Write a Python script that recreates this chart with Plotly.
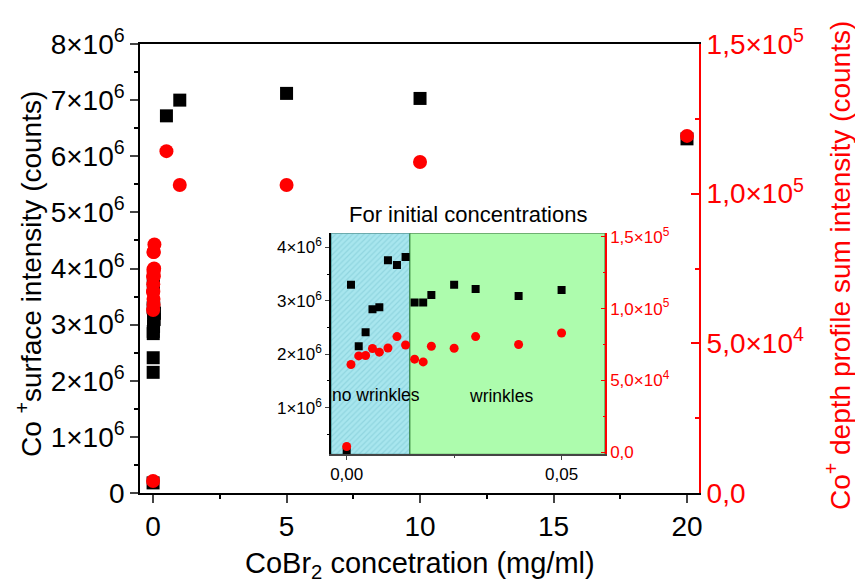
import plotly.graph_objects as go

# ---------------- data ----------------
# low concentrations (shown near 0 in main plot and in the inset)
low_conc = [0, 0.001, 0.0028, 0.0044, 0.006, 0.0076, 0.0096, 0.0117, 0.0137,
            0.0158, 0.0178, 0.0197, 0.025, 0.03, 0.04, 0.05]
low_surface = [0.18e6, 3.30e6, 2.15e6, 2.41e6, 2.84e6, 2.88e6, 3.76e6, 3.67e6, 3.82e6,
               2.97e6, 2.97e6, 3.11e6, 3.30e6, 3.22e6, 3.09e6, 3.20e6]
low_depth = [4.0e3, 6.11e4, 6.71e4, 6.74e4, 7.22e4, 6.97e4, 7.26e4, 8.05e4, 7.47e4,
             6.48e4, 6.29e4, 7.38e4, 7.24e4, 8.05e4, 7.5e4, 8.3e4]

# high concentrations
high_conc = [0.5, 1, 5, 10, 20]
high_surface = [6.72e6, 7.0e6, 7.12e6, 7.03e6, 6.31e6]
high_depth = [1.142e5, 1.029e5, 1.029e5, 1.106e5, 1.193e5]

all_conc = low_conc + high_conc
all_surface = low_surface + high_surface
all_depth = low_depth + high_depth

# tick labels
main_x_ticks = [0, 5, 10, 15, 20]
main_y_ticks = [0, 1e6, 2e6, 3e6, 4e6, 5e6, 6e6, 7e6, 8e6]
main_y_text = ["0"] + [f"{i}×10<sup>6</sup>" for i in range(1, 9)]
main_y2_ticks = [0, 5e4, 1e5, 1.5e5]
main_y2_text = ["0,0", "5,0×10<sup>4</sup>", "1,0×10<sup>5</sup>", "1,5×10<sup>5</sup>"]

inset_x_ticks = [0, 0.05]
inset_x_text = ["0,00", "0,05"]
inset_y_ticks = [1e6, 2e6, 3e6, 4e6]
inset_y_text = [f"{i}×10<sup>6</sup>" for i in range(1, 5)]
inset_y2_ticks = [0, 5e4, 1e5, 1.5e5]
inset_y2_text = ["0,0", "5,0×10<sup>4</sup>", "1,0×10<sup>5</sup>", "1,5×10<sup>5</sup>"]

wrinkle_threshold = 0.0147

# axis ranges
main_x_range = [-0.49, 20.45]
main_y_range = [0, 8e6]
main_y2_range = [0, 1.5e5]
inset_x_range = [-0.00365, 0.0601]
inset_y_range = [0.129e6, 4.262e6]
inset_y2_range = [-1.39e3, 1.524e5]

FONT = "Liberation Sans, Arial, sans-serif"
RED = "#ff0000"

fig = go.Figure()

# ---------- main plot ----------
fig.add_trace(go.Scatter(x=all_conc, y=all_surface, mode="markers",
                         marker=dict(symbol="square", size=13, color="black"),
                         xaxis="x", yaxis="y", showlegend=False))
fig.add_trace(go.Scatter(x=all_conc, y=all_depth, mode="markers",
                         marker=dict(symbol="circle", size=14, color=RED),
                         xaxis="x", yaxis="y2", showlegend=False))

# ---------- inset background regions ----------
fig.add_trace(go.Scatter(
    x=[inset_x_range[0], wrinkle_threshold, wrinkle_threshold, inset_x_range[0], inset_x_range[0]],
    y=[inset_y_range[0], inset_y_range[0], inset_y_range[1], inset_y_range[1], inset_y_range[0]],
    mode="lines", fill="toself", fillcolor="#a8e6ee",
    fillpattern=dict(shape="/", bgcolor="#a8e6ee", fgcolor="#78c4d0", size=4, solidity=0.3),
    line=dict(color="#2f7f7f", width=1), xaxis="x2", yaxis="y3",
    showlegend=False, hoverinfo="skip"))
fig.add_trace(go.Scatter(
    x=[wrinkle_threshold, inset_x_range[1], inset_x_range[1], wrinkle_threshold, wrinkle_threshold],
    y=[inset_y_range[0], inset_y_range[0], inset_y_range[1], inset_y_range[1], inset_y_range[0]],
    mode="lines", fill="toself", fillcolor="#adfcad",
    line=dict(color="#2e7d32", width=1), xaxis="x2", yaxis="y3",
    showlegend=False, hoverinfo="skip"))

# ---------- inset data ----------
fig.add_trace(go.Scatter(x=low_conc, y=low_surface, mode="markers",
                         marker=dict(symbol="square", size=8, color="black"),
                         xaxis="x2", yaxis="y3", showlegend=False))
fig.add_trace(go.Scatter(x=low_conc, y=low_depth, mode="markers",
                         marker=dict(symbol="circle", size=9, color=RED),
                         xaxis="x2", yaxis="y4", showlegend=False))

# domains
px_left, px_right, px_top, px_bottom = 140, 699, 44, 493
W = px_right - px_left
H = px_bottom - px_top
ix0, ix1, iy0, iy1 = 331, 605, 233.3, 454.3
inset_xdom = [(ix0 - px_left) / W, (ix1 - px_left) / W]
inset_ydom = [(px_bottom - iy1) / H, (px_bottom - iy0) / H]

tickfont_main = dict(family=FONT, size=28, color="black")
tickfont_inset = dict(family=FONT, size=17, color="black")

fig.update_layout(
    width=855, height=584,
    margin=dict(l=px_left, r=855 - px_right, t=px_top, b=584 - px_bottom),
    paper_bgcolor="white", plot_bgcolor="rgba(0,0,0,0)",
    font=dict(family=FONT, color="black"),
    showlegend=False,
    xaxis=dict(range=main_x_range, tickvals=main_x_ticks, ticks="outside", ticklen=8,
               tickwidth=1.5, showline=True, linewidth=1.5, linecolor="black",
               mirror=True, showgrid=False, zeroline=False, tickfont=tickfont_main,
               minor=dict(dtick=2.5, ticks="outside", ticklen=4, tickcolor="black"),
               domain=[0, 1], anchor="y"),
    yaxis=dict(range=main_y_range, tickvals=main_y_ticks, ticktext=main_y_text,
               ticks="outside", ticklen=8, tickwidth=1.5, showline=True, linewidth=1.5,
               linecolor="black", showgrid=False, zeroline=False, tickfont=tickfont_main,
               minor=dict(dtick=0.5e6, ticks="outside", ticklen=4, tickcolor="black"),
               anchor="x"),
    yaxis2=dict(range=main_y2_range, tickvals=main_y2_ticks, ticktext=main_y2_text,
                overlaying="y", side="right", anchor="x",
                ticks="inside", ticklen=8, tickwidth=1.5, tickcolor=RED, showline=True,
                linewidth=2, linecolor=RED, showgrid=False, zeroline=False,
                tickfont=dict(family=FONT, size=28, color=RED),
                minor=dict(dtick=2.5e4, ticks="inside", ticklen=4, tickcolor=RED)),
    xaxis2=dict(domain=inset_xdom, anchor="y3", range=inset_x_range,
                tickvals=inset_x_ticks, ticktext=inset_x_text, ticks="outside",
                ticklen=4, tickcolor="#444", showline=True, linewidth=1.5,
                linecolor="#444", showgrid=False, zeroline=False, tickfont=tickfont_inset,
                minor=dict(dtick=0.025, ticks="outside", ticklen=2, tickcolor="#444")),
    yaxis3=dict(domain=inset_ydom, anchor="x2", range=inset_y_range,
                tickvals=inset_y_ticks, ticktext=inset_y_text, ticks="outside",
                ticklen=4, showline=True, linewidth=1.5, linecolor="black",
                showgrid=False, zeroline=False, tickfont=tickfont_inset,
                minor=dict(dtick=0.5e6, ticks="outside", ticklen=2, tickcolor="black")),
    yaxis4=dict(overlaying="y3", side="right", anchor="x2", range=inset_y2_range,
                tickvals=inset_y2_ticks, ticktext=inset_y2_text, ticks="inside",
                ticklen=4, tickcolor=RED, showline=True, linewidth=1.5, linecolor=RED,
                showgrid=False, zeroline=False,
                tickfont=dict(family=FONT, size=17, color=RED),
                minor=dict(dtick=2.5e4, ticks="inside", ticklen=2, tickcolor=RED)),
)

def px_to_paper(px, py):
    return (px - px_left) / W, (px_bottom - py) / H

annotations = []
# axis titles
ax, ay = px_to_paper(420, 565)
annotations.append(dict(text="CoBr<sub>2</sub> concetration (mg/ml)", x=ax, y=ay,
                        xref="paper", yref="paper", showarrow=False,
                        font=dict(family=FONT, size=29, color="black"),
                        xanchor="center", yanchor="middle"))
ax, ay = px_to_paper(29, 274)
annotations.append(dict(text="Co <sup>+</sup>surface intensity (counts)", x=ax, y=ay,
                        xref="paper", yref="paper", showarrow=False, textangle=-90,
                        font=dict(family=FONT, size=28, color="black"),
                        xanchor="center", yanchor="middle"))
ax, ay = px_to_paper(838, 266)
annotations.append(dict(text="Co<sup>+</sup> depth profile sum intensity (counts)", x=ax, y=ay,
                        xref="paper", yref="paper", showarrow=False, textangle=-90,
                        font=dict(family=FONT, size=28, color=RED),
                        xanchor="center", yanchor="middle"))
# inset title
ax, ay = px_to_paper(468, 214)
annotations.append(dict(text="For initial concentrations", x=ax, y=ay,
                        xref="paper", yref="paper", showarrow=False,
                        font=dict(family=FONT, size=22, color="black"),
                        xanchor="center", yanchor="middle"))
annotations.append(dict(text="no wrinkles", x=0.0068, y=1.24e6, xref="x2", yref="y3",
                        showarrow=False, font=dict(family=FONT, size=17.5, color="black"),
                        xanchor="center", yanchor="middle"))
annotations.append(dict(text="wrinkles", x=0.0358, y=1.22e6, xref="x2", yref="y3",
                        showarrow=False, font=dict(family=FONT, size=17.5, color="black"),
                        xanchor="center", yanchor="middle"))
fig.update_layout(annotations=annotations)

fig.write_html("out.html")
